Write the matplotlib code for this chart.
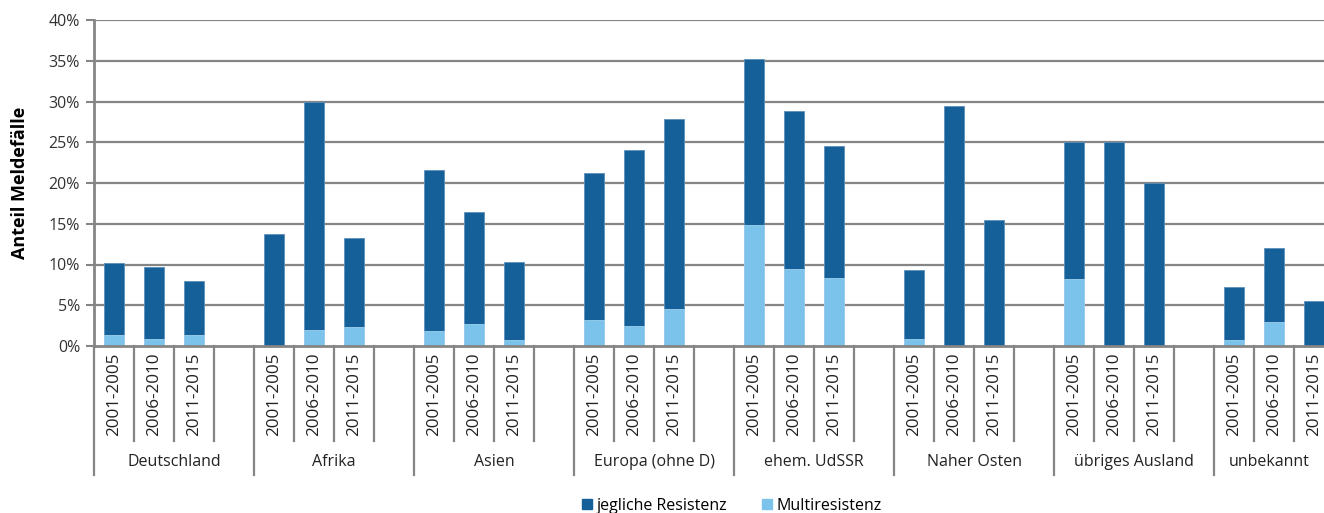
import numpy as np
import matplotlib.pyplot as plt
from matplotlib.transforms import blended_transform_factory
from matplotlib.patches import Patch

plt.rcParams['font.family'] = ['Open Sans', 'DejaVu Sans']

regions = ['Deutschland', 'Afrika', 'Asien', 'Europa (ohne D)', 'ehem. UdSSR',
           'Naher Osten', 'übriges Ausland', 'unbekannt']
periods = ['2001-2005', '2006-2010', '2011-2015']

# share of notified cases (%) per region and period
any_res = [[10.2, 9.7, 8.0],
           [13.8, 29.9, 13.2],
           [21.6, 16.4, 10.3],
           [21.2, 24.1, 27.9],
           [35.2, 28.8, 24.5],
           [9.3, 29.5, 15.5],
           [25.0, 25.0, 20.0],
           [7.3, 12.0, 5.5]]
multi_res = [[1.4, 0.9, 1.3],
             [0.0, 2.0, 2.3],
             [1.8, 2.7, 0.7],
             [3.2, 2.5, 4.5],
             [14.9, 9.5, 8.4],
             [0.9, 0.0, 0.0],
             [8.2, 0.0, 0.0],
             [0.7, 3.0, 0.0]]

dark = '#156099'
light = '#7bc3ea'
grey = '#858585'

fig = plt.figure(figsize=(13.24, 5.13), dpi=100)
ax = fig.add_axes([94 / 1324, 167 / 513, 1 - 94 / 1324, 326 / 513])

# four slots per region: three periods and an empty gap
xpos = np.array([4 * g + p for g in range(len(regions)) for p in range(3)])
ax.bar(xpos, np.ravel(any_res), width=0.48, color=dark, edgecolor='#5d8fb8',
       linewidth=0.6, zorder=3)
ax.bar(xpos, np.ravel(multi_res), width=0.48, color=light, edgecolor='#9fd2ee',
       linewidth=0.6, zorder=4)

xmax = 30.25
ax.set_xlim(-0.5, xmax)
ax.set_ylim(0, 40)
ax.set_yticks(np.arange(0, 41, 5))
ax.set_yticklabels([f'{v}%' for v in range(0, 41, 5)], fontsize=11.5, color='#333333')
ax.tick_params(axis='y', length=6, width=1.5, color=grey, pad=4)
ax.set_xticks([])
for v in range(5, 41, 5):
    ax.axhline(v, color=grey, lw=1.6, zorder=1)
for s in ['top', 'right']:
    ax.spines[s].set_visible(False)
for s in ['left', 'bottom']:
    ax.spines[s].set_color(grey)
    ax.spines[s].set_linewidth(2)
    ax.spines[s].set_zorder(5)

ax.set_ylabel('Anteil Meldefälle', fontsize=13, fontweight='bold', labelpad=14)

# category axis with period and region labels below the plot
tr = blended_transform_factory(ax.transData, ax.transAxes)
for k in range(31):
    x = k - 0.5
    bottom = -0.395 if k % 4 == 0 else -0.29
    ax.plot([x, x], [0, bottom], transform=tr, color=grey, lw=1.6, clip_on=False)
for x, (g, p) in zip(xpos, [(g, p) for g in range(len(regions)) for p in range(3)]):
    ax.text(x, -0.02, periods[p], transform=tr, rotation=90, ha='center', va='top',
            fontsize=12.3, color='#222222')
for g, name in enumerate(regions):
    left, right = 4 * g - 0.5, min(4 * g + 3.5, xmax)
    ax.text((left + right) / 2, -0.355, name, transform=tr, ha='center', va='center',
            fontsize=11.5, color='#222222')

handles = [Patch(color=dark), Patch(color=light)]
fig.legend(handles, ['jegliche Resistenz', 'Multiresistenz'], loc='center',
           bbox_to_anchor=(0.553, 0.014), ncol=2, frameon=False, fontsize=11.5,
           handlelength=0.6, handleheight=0.6, handletextpad=0.3, columnspacing=2.2)

fig.savefig('out.png', dpi=100)
